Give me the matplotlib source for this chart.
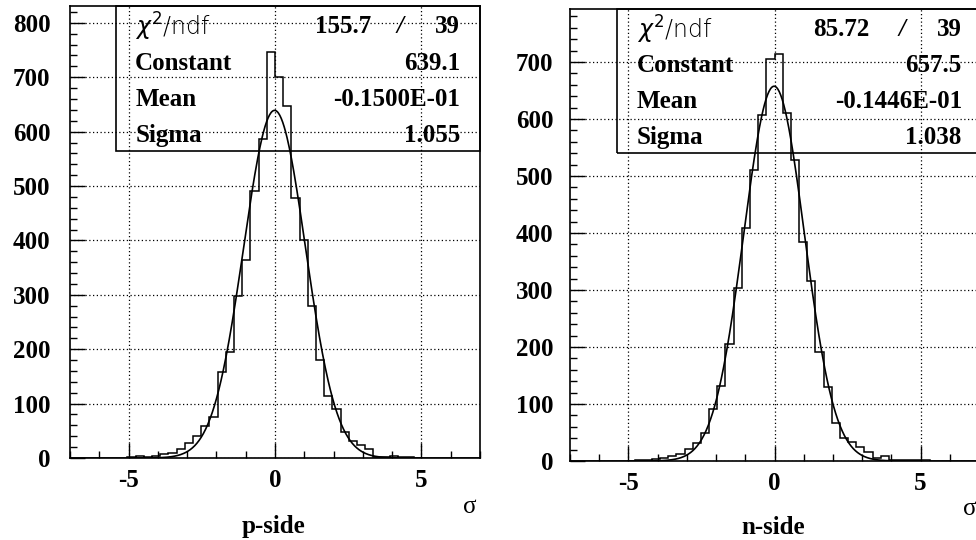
import numpy as np
import matplotlib
matplotlib.use("Agg")
import matplotlib.pyplot as plt
from matplotlib.patches import Rectangle
from matplotlib.ticker import MultipleLocator

plt.rcParams['font.family'] = ['Liberation Serif', 'DejaVu Serif']
plt.rcParams['mathtext.fontset'] = 'dejavusans'
plt.rcParams['axes.unicode_minus'] = False

# 50 bins of width 0.28 between -7 and 7
edges = np.linspace(-7, 7, 51)

# p-side counts, bin by bin from -7 to 7
p_counts = [0, 0, 0, 0, 0, 0, 0, 1, 3, 1, 4, 8, 10, 17, 28, 41, 58, 75, 158,
            194, 298, 364, 491, 587, 747, 701, 647, 478, 400, 280, 180, 114, 90, 47,
            32, 24, 16, 2, 2, 4, 2, 2, 0, 0, 0, 0, 0, 0, 0, 0]
# n-side counts
n_counts = [0, 0, 0, 0, 0, 0, 0, 0, 1, 2, 3, 6, 8, 12, 21, 31, 50, 91, 132,
            205, 303, 408, 511, 607, 705, 714, 611, 528, 384, 316, 192, 130, 67, 41,
            34, 24, 15, 5, 9, 2, 1, 1, 2, 1, 0, 0, 0, 0, 0, 0]

# fit parameters shown in the stat boxes
p_fit = {'chi2': '155.7', 'ndf': '39', 'const': 639.1, 'mean': -0.01500, 'sigma': 1.055,
         'const_txt': '639.1', 'mean_txt': '-0.1500E-01', 'sigma_txt': '1.055'}
n_fit = {'chi2': '85.72', 'ndf': '39', 'const': 657.5, 'mean': -0.01446, 'sigma': 1.038,
         'const_txt': '657.5', 'mean_txt': '-0.1446E-01', 'sigma_txt': '1.038'}

fig = plt.figure(figsize=(9.76, 5.4), dpi=100)
ax1 = fig.add_axes([70/976, 82/540, 410/976, 452/540])
ax2 = fig.add_axes([570/976, 79/540, 409/976, 452/540])


def draw_panel(ax, counts, fit, ymax, box, lab_x, val_x, chi_x, slash_x, ypad):
    ax.grid(True, which='major', color='black', linestyle=(0, (1, 2)), linewidth=0.9)
    ax.set_axisbelow(True)
    ax.stairs(counts, edges, color='black', linewidth=1.1, zorder=3)
    xs = np.linspace(-5, 5, 400)
    ys = fit['const'] * np.exp(-0.5 * ((xs - fit['mean']) / fit['sigma']) ** 2)
    ax.plot(xs, ys, color='black', linewidth=1.2, zorder=4)
    ax.set_xlim(-7, 7)
    ax.set_ylim(0, ymax)
    ax.xaxis.set_major_locator(MultipleLocator(5))
    ax.xaxis.set_minor_locator(MultipleLocator(1))
    ax.yaxis.set_major_locator(MultipleLocator(100))
    ax.yaxis.set_minor_locator(MultipleLocator(20))
    ax.tick_params(which='both', direction='in', top=False, right=False,
                   labelsize=18, width=1)
    ax.tick_params(which='major', length=11)
    ax.tick_params(which='minor', length=5)
    ax.tick_params(axis='x', pad=8)
    ax.tick_params(axis='y', pad=ypad)
    for lbl in ax.get_xticklabels() + ax.get_yticklabels():
        lbl.set_fontweight('bold')
    for s in ax.spines.values():
        s.set_linewidth(1.2)

    # stat box
    bx, by = box
    ax.add_patch(Rectangle((bx, by), 1 - bx, 1 - by, transform=ax.transAxes,
                           fill=False, edgecolor='black', linewidth=1.2, zorder=2,
                           clip_on=False))
    rh = (1 - by) / 4
    rows = [1 - (i + 0.5) * rh - 0.006 for i in range(4)]
    ax.text(lab_x, rows[0], r'$\chi^2$/ndf', transform=ax.transAxes, fontsize=17,
            family='DejaVu Sans', fontweight='light', va='center', ha='left', zorder=5)
    ax.text(chi_x, rows[0], fit['chi2'], transform=ax.transAxes, fontsize=18,
            fontweight='bold', va='center', ha='right', zorder=5)
    ax.text(slash_x, rows[0], '/', transform=ax.transAxes, fontsize=18,
            fontweight='bold', style='italic', va='center', ha='center', zorder=5)
    ax.text(val_x, rows[0], fit['ndf'], transform=ax.transAxes, fontsize=18,
            fontweight='bold', va='center', ha='right', zorder=5)
    names = ['Constant', 'Mean', 'Sigma']
    vals = [fit['const_txt'], fit['mean_txt'], fit['sigma_txt']]
    for r, nm, v in zip(rows[1:], names, vals):
        ax.text(lab_x, r, nm, transform=ax.transAxes, fontsize=18,
                fontweight='bold', va='center', ha='left', zorder=5)
        ax.text(val_x, r, v, transform=ax.transAxes, fontsize=18,
                fontweight='bold', va='center', ha='right', zorder=5)


draw_panel(ax1, p_counts, p_fit, 831, (0.112, 0.679),
           0.159, 0.951, 0.734, 0.805, 14)
draw_panel(ax2, n_counts, n_fit, 793, (0.115, 0.681),
           0.164, 0.958, 0.733, 0.812, 12)
ax2.spines['right'].set_visible(False)

fig.text(273/976, 1 - 526/540, 'p-side', ha='center', va='center', fontsize=18,
         fontweight='bold')
fig.text(773/976, 1 - 528/540, 'n-side', ha='center', va='center', fontsize=18,
         fontweight='bold')
fig.text(470/976, 1 - 507/540, 'σ', ha='center', va='center', fontsize=18)
fig.text(970/976, 1 - 509/540, 'σ', ha='center', va='center', fontsize=18)

fig.savefig('out.png', dpi=100)
